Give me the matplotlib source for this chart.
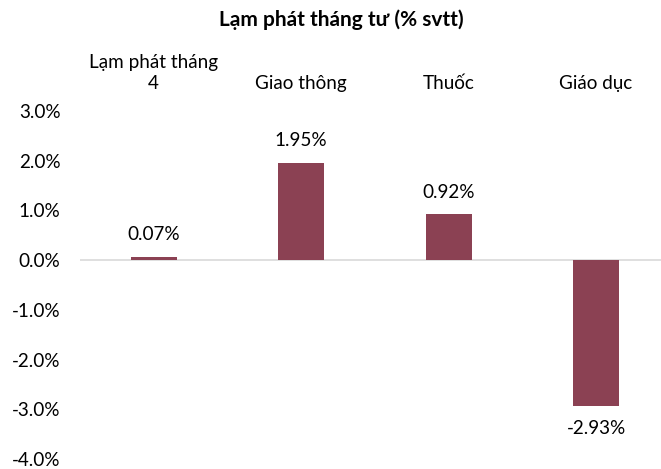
import matplotlib
matplotlib.use("Agg")
import matplotlib.pyplot as plt

categories = ["Lạm phát tháng\n4", "Giao thông", "Thuốc", "Giáo dục"]
values = [0.07, 1.95, 0.92, -2.93]
value_labels = ["0.07%", "1.95%", "0.92%", "-2.93%"]
yticks = [3.0, 2.0, 1.0, 0.0, -1.0, -2.0, -3.0, -4.0]
ytick_labels = ["3.0%", "2.0%", "1.0%", "0.0%", "-1.0%", "-2.0%", "-3.0%", "-4.0%"]
title = "Lạm phát tháng tư (% svtt)"

plt.rcParams['font.family'] = ['Lato', 'DejaVu Sans']
W, H = 661, 469
fig = plt.figure(figsize=(W/100, H/100), dpi=100)
ax = fig.add_axes([80/W, 1 - 459/H, 1 - 80/W, (459-111)/H])

FS = 13.6
color = "#8B4153"
x = list(range(len(categories)))
ax.bar(x, values, width=0.31, color=color)
ax.set_xlim(-0.5, 3.44)
ax.set_ylim(-4.0, 3.0)
ax.axhline(0, color="#d9d9d9", lw=1.2, zorder=0)

for s in ax.spines.values():
    s.set_visible(False)
ax.set_yticks(yticks)
ax.set_yticklabels(ytick_labels, fontsize=FS, color="#000000")
ax.tick_params(axis='y', length=0, pad=14)
ax.xaxis.tick_top()
ax.set_xticks(x)
ax.set_xticklabels(categories, fontsize=FS, linespacing=1.25)
ax.tick_params(axis='x', length=0, pad=14)

for xi, v, lab in zip(x, values, value_labels):
    if v >= 0:
        ax.annotate(lab, (xi, v), xytext=(0, 10), textcoords='offset points',
                    ha='center', va='bottom', fontsize=FS)
    else:
        ax.annotate(lab, (xi, v), xytext=(0, -10), textcoords='offset points',
                    ha='center', va='top', fontsize=FS)

fig.text(341/W, 1 - 20/H, title, ha='center', va='center', fontsize=15, fontweight='bold')
fig.savefig("out.png", dpi=100)
